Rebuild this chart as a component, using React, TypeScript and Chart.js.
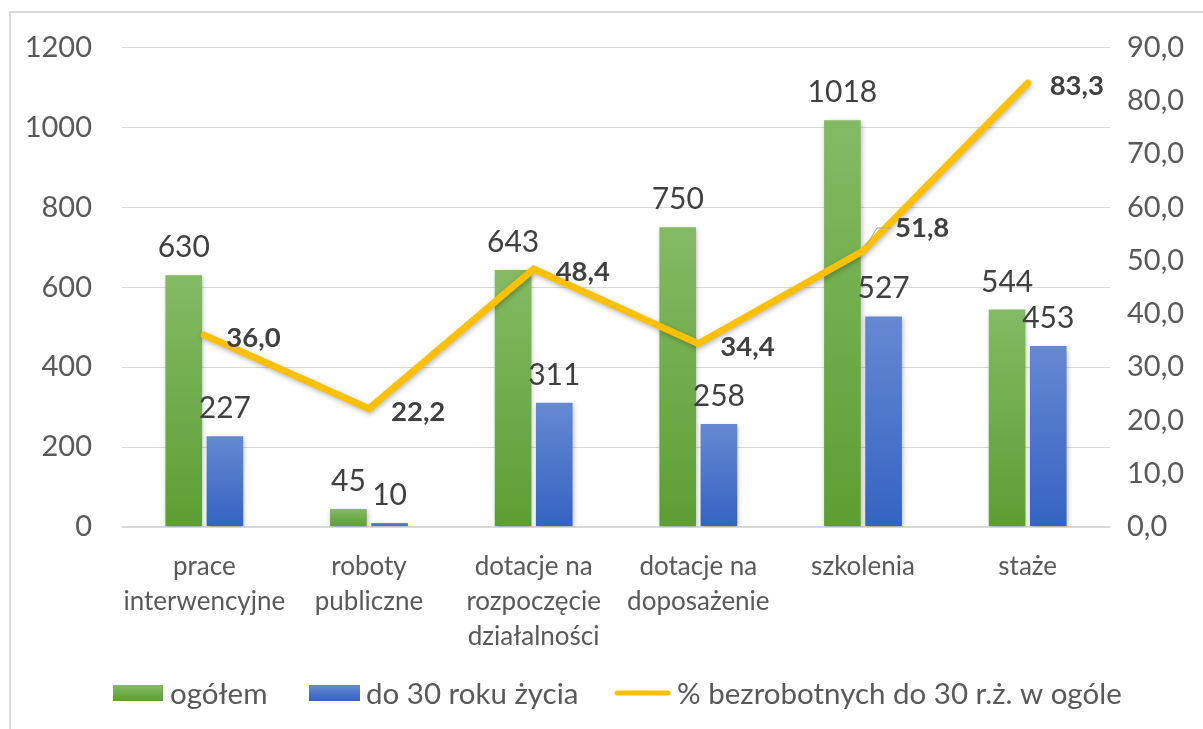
import React, { useEffect, useRef } from "react";
import { Chart, registerables } from "chart.js";
Chart.register(...registerables);

const categories: string[][] = [
  ["prace", "interwencyjne"],
  ["roboty", "publiczne"],
  ["dotacje na", "rozpoczęcie", "działalności"],
  ["dotacje na", "doposażenie"],
  ["szkolenia"],
  ["staże"],
];
const totalValues = [630, 45, 643, 750, 1018, 544];
const under30Values = [227, 10, 311, 258, 527, 453];
const sharePercent = [36.0, 22.2, 48.4, 34.4, 51.8, 83.3];
const seriesNames = ["ogółem", "do 30 roku życia", "% bezrobotnych do 30 r.ż. w ogóle"];

const FONT = "Lato, 'Open Sans', sans-serif";
const TEXT = "#595959";
const LABEL = "#404040";
const GREEN_LIGHT = "#84BA64";
const GREEN_DARK = "#5C9E33";
const BLUE_LIGHT = "#6589D2";
const BLUE_DARK = "#3563C2";
const LINE = "#FFC000";

function barGradient(light: string, dark: string) {
  return (ctx: any) => {
    const chart = ctx.chart;
    if (!chart.chartArea || ctx.type !== "data") return dark;
    const y = chart.scales.y;
    const top = y.getPixelForValue(ctx.raw);
    const bottom = y.getPixelForValue(0);
    if (bottom - top < 2) return dark;
    const g = chart.ctx.createLinearGradient(0, top, 0, bottom);
    g.addColorStop(0, light);
    g.addColorStop(1, dark);
    return g;
  };
}

const fmt = (v: number) => v.toFixed(1).replace(".", ",");

const shadowPlugin = {
  id: "shadow",
  beforeDatasetDraw(chart: any) {
    const c = chart.ctx;
    c.save();
    c.shadowColor = "rgba(0,0,0,0.28)";
    c.shadowBlur = 5;
    c.shadowOffsetX = 1;
    c.shadowOffsetY = 2;
  },
  afterDatasetDraw(chart: any) {
    chart.ctx.restore();
  },
};

const labelsPlugin = {
  id: "valueLabels",
  afterDatasetsDraw(chart: any) {
    const c = chart.ctx;
    c.save();
    [0, 1].forEach((di) => {
      const meta = chart.getDatasetMeta(di);
      const data = chart.data.datasets[di].data as number[];
      c.font = `30px ${FONT}`;
      c.fillStyle = LABEL;
      c.textAlign = "center";
      c.textBaseline = "alphabetic";
      meta.data.forEach((el: any, i: number) => {
        c.fillText(String(data[i]), el.x, el.y - 18);
      });
    });
    const lm = chart.getDatasetMeta(2);
    c.font = `bold 27.5px ${FONT}`;
    c.fillStyle = LABEL;
    c.textAlign = "left";
    c.textBaseline = "middle";
    lm.data.forEach((el: any, i: number) => {
      const off = i === 4 ? [32, -23] : [22, 3];
      if (i === 4) {
        c.strokeStyle = "#A6A6A6";
        c.lineWidth = 1;
        c.beginPath();
        c.moveTo(el.x + 3, el.y - 5);
        c.lineTo(el.x + 14, el.y - 23);
        c.lineTo(el.x + 28, el.y - 23);
        c.stroke();
      }
      c.fillText(fmt(sharePercent[i]), el.x + off[0], el.y + off[1]);
    });
    c.restore();
  },
};

const framePlugin = {
  id: "frameLegend",
  afterDraw(chart: any) {
    const c = chart.ctx;
    c.save();
    c.strokeStyle = "#D9D9D9";
    c.lineWidth = 2;
    c.beginPath();
    c.moveTo(10, chart.height);
    c.lineTo(10, 12);
    c.lineTo(chart.width, 12);
    c.stroke();
    const y = 693;
    c.font = `29.5px ${FONT}`;
    c.textBaseline = "middle";
    c.textAlign = "left";
    let x = 113;
    const g1 = c.createLinearGradient(0, y - 8, 0, y + 8);
    g1.addColorStop(0, GREEN_LIGHT);
    g1.addColorStop(1, GREEN_DARK);
    c.fillStyle = g1;
    c.fillRect(x, y - 8, 50, 16);
    c.fillStyle = TEXT;
    c.fillText(seriesNames[0], x + 57, y + 1);
    x = 309;
    const g2 = c.createLinearGradient(0, y - 8, 0, y + 8);
    g2.addColorStop(0, BLUE_LIGHT);
    g2.addColorStop(1, BLUE_DARK);
    c.fillStyle = g2;
    c.fillRect(x, y - 8, 51, 16);
    c.fillStyle = TEXT;
    c.fillText(seriesNames[1], x + 57, y + 1);
    x = 617;
    c.strokeStyle = LINE;
    c.lineWidth = 5;
    c.lineCap = "round";
    c.beginPath();
    c.moveTo(x, y);
    c.lineTo(x + 51, y);
    c.stroke();
    c.fillText(seriesNames[2], x + 60, y + 1);
    c.restore();
  },
};

export default function App() {
  const ref = useRef<HTMLCanvasElement | null>(null);
  useEffect(() => {
    document.body.style.margin = "0";
    const chart = new Chart(ref.current as HTMLCanvasElement, {
      type: "bar",
      data: {
        labels: categories,
        datasets: [
          {
            type: "bar",
            label: seriesNames[0],
            data: totalValues,
            backgroundColor: barGradient(GREEN_LIGHT, GREEN_DARK),
            yAxisID: "y",
            order: 2,
            categoryPercentage: 0.5,
            barPercentage: 0.89,
          },
          {
            type: "bar",
            label: seriesNames[1],
            data: under30Values,
            backgroundColor: barGradient(BLUE_LIGHT, BLUE_DARK),
            yAxisID: "y",
            order: 2,
            categoryPercentage: 0.5,
            barPercentage: 0.89,
          },
          {
            type: "line",
            label: seriesNames[2],
            data: sharePercent,
            borderColor: LINE,
            backgroundColor: LINE,
            borderWidth: 7,
            pointRadius: 0,
            borderCapStyle: "round",
            borderJoinStyle: "miter",
            tension: 0,
            yAxisID: "y1",
            order: 1,
          } as any,
        ],
      },
      options: {
        animation: false,
        responsive: false,
        layout: { padding: { top: 43, bottom: 0, left: 0, right: 0 } },
        plugins: { legend: { display: false }, tooltip: { enabled: false } },
        scales: {
          x: {
            grid: { display: false },
            border: { display: false },
            ticks: {
              color: TEXT,
              font: { family: FONT, size: 26, lineHeight: 1.35 },
              padding: 14,
              maxRotation: 0,
              autoSkip: false,
            },
            afterFit: (s: any) => {
              s.height = 202;
            },
          },
          y: {
            position: "left",
            min: 0,
            max: 1200,
            ticks: {
              stepSize: 200,
              color: TEXT,
              font: { family: FONT, size: 29 },
              padding: 30,
              callback: (v: any) => String(v),
            },
            grid: {
              color: "#D9D9D9",
              lineWidth: (ctx: any) => (ctx.tick && ctx.tick.value === 0 ? 2 : 1),
              drawTicks: false,
            },
            border: { display: false },
            afterFit: (s: any) => {
              s.width = 122;
            },
          },
          y1: {
            position: "right",
            min: 0,
            max: 90,
            ticks: {
              stepSize: 10,
              color: TEXT,
              font: { family: FONT, size: 29 },
              padding: 17,
              callback: (v: any) => fmt(Number(v)),
            },
            grid: { display: false, drawTicks: false },
            border: { display: false },
            afterFit: (s: any) => {
              s.width = 93;
            },
          },
        },
      },
      plugins: [shadowPlugin, labelsPlugin, framePlugin],
    });
    return () => chart.destroy();
  }, []);
  return (
    <div style={{ position: "absolute", left: 0, top: 0, width: 1203, height: 729, background: "#fff" }}>
      <canvas ref={ref} width={1203} height={729} style={{ display: "block" }} />
    </div>
  );
}
